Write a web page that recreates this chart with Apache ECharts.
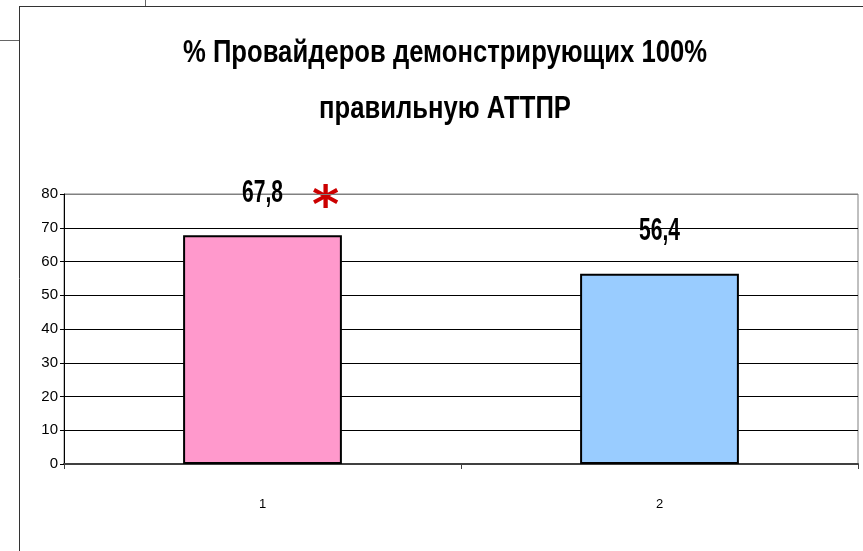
<!DOCTYPE html>
<html>
<head>
<meta charset="utf-8">
<script src="https://cdn.jsdelivr.net/npm/echarts@6/dist/echarts.min.js"></script>
<style>
  html, body { margin: 0; padding: 0; background: #fff; }
  #chart { width: 863px; height: 551px; }
</style>
</head>
<body>
<div id="chart"></div>
<script>
// данные
const categories = ["1", "2"];
const values = [67.8, 56.4];
const barColors = ["#FF99CC", "#99CCFF"];
const yTicks = [0, 10, 20, 30, 40, 50, 60, 70, 80];
const titleLines = ["% Провайдеров демонстрирующих 100%", "правильную АТТПР"];

const fontFam = "'Liberation Sans', Arial, sans-serif";
const titleFont = "bold 31px " + fontFam;
const labelFont = "bold 32px " + fontFam;

// узкий шрифт (как Arial Narrow) — сжимаем по горизонтали
const ctx = document.createElement("canvas").getContext("2d");
function measure(font, text) {
  ctx.font = font;
  return ctx.measureText(text).width;
}
const titleScale = 524 / measure(titleFont, titleLines[0]);
const labelScale = 41 / measure(labelFont, "67,8");

const fmt = (v) => String(v).replace(".", ",");

const chart = echarts.init(document.getElementById("chart"));

// линии сетки: верхняя серая, остальные черные
const splitColors = yTicks.map((t, i) => (i === yTicks.length - 1 ? "#808080" : "#000"));

const option = {
  backgroundColor: "#fff",
  animation: false,
  grid: {
    left: 64,
    right: 5,
    top: 194,
    bottom: 87,
    show: true,
    borderColor: "#808080",
    borderWidth: 1,
    backgroundColor: "transparent",
  },
  xAxis: {
    type: "category",
    data: categories,
    boundaryGap: true,
    axisLine: { show: true, lineStyle: { color: "#404040", width: 2 } },
    axisTick: { show: true, length: 5, lineStyle: { color: "#404040" } },
    axisLabel: {
      margin: 34,
      color: "#000",
      fontFamily: fontFam,
      fontSize: 13,
    },
  },
  yAxis: {
    type: "value",
    min: 0,
    max: 80,
    interval: 10,
    axisLine: { show: true, lineStyle: { color: "#000", width: 1 } },
    axisTick: { show: true, length: 4, lineStyle: { color: "#000" } },
    axisLabel: {
      margin: 6,
      color: "#000",
      fontFamily: fontFam,
      fontSize: 15,
    },
    splitLine: { show: true, lineStyle: { color: splitColors, width: 1 } },
  },
  series: [
    {
      type: "bar",
      barWidth: "40%",
      data: values.map((v, i) => ({
        value: v,
        itemStyle: { color: barColors[i], borderColor: "#000", borderWidth: 2 },
      })),
    },
    {
      // подписи значений (узкий шрифт)
      type: "custom",
      silent: true,
      z: 10,
      data: values.map((v, i) => [i, v]),
      renderItem: (params, api) => {
        const p = api.coord([api.value(0), api.value(1)]);
        return {
          type: "text",
          x: p[0],
          y: p[1] - 42,
          scaleX: labelScale,
          style: {
            text: fmt(api.value(1)),
            font: labelFont,
            fill: "#000",
            align: "center",
            verticalAlign: "middle",
          },
        };
      },
    },
  ],
  graphic: [
    // рамка слайда
    { type: "line", shape: { x1: 19.5, y1: 6, x2: 19.5, y2: 551 }, style: { stroke: "#333", lineWidth: 1 } },
    { type: "line", shape: { x1: 19, y1: 6.5, x2: 863, y2: 6.5 }, style: { stroke: "#333", lineWidth: 1 } },
    { type: "line", shape: { x1: 145.5, y1: 0, x2: 145.5, y2: 6 }, style: { stroke: "#666", lineWidth: 1 } },
    { type: "line", shape: { x1: 0, y1: 40.5, x2: 19, y2: 40.5 }, style: { stroke: "#666", lineWidth: 1 } },
    // заголовок
    {
      type: "text",
      x: 445,
      y: 53,
      scaleX: titleScale,
      style: { text: titleLines[0], font: titleFont, fill: "#000", align: "center", verticalAlign: "middle" },
    },
    {
      type: "text",
      x: 445,
      y: 109,
      scaleX: titleScale,
      style: { text: titleLines[1], font: titleFont, fill: "#000", align: "center", verticalAlign: "middle" },
    },
    // звездочка
    {
      type: "text",
      left: 312,
      top: 182,
      style: {
        text: "*",
        fill: "#CC0000",
        font: "bold 52px 'DejaVu Sans', sans-serif",
      },
    },
  ],
};

chart.setOption(option);
</script>
</body>
</html>
